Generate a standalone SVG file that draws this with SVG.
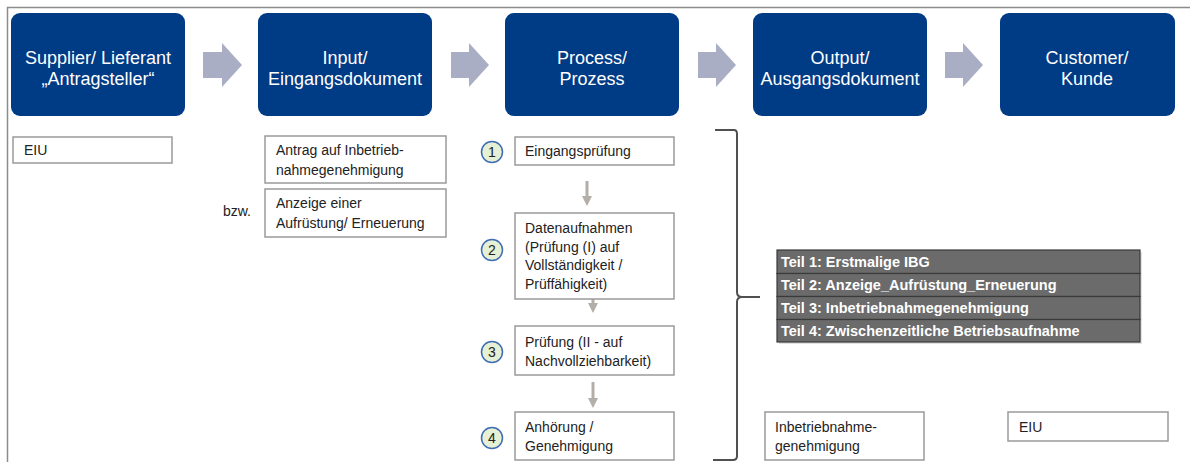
<svg xmlns="http://www.w3.org/2000/svg" width="1190" height="462" viewBox="0 0 1190 462">
<style>
.hdr{fill:#003B86;}
.ht{font-family:"Liberation Sans",Arial,sans-serif;font-size:18px;fill:#ffffff;text-anchor:middle;}
.box{fill:#ffffff;stroke:#9a9a9a;stroke-width:1.5;}
.t{font-family:"Liberation Sans",Arial,sans-serif;font-size:14px;fill:#222222;}
.harrow{fill:#A9AEC4;}
.varrow{fill:#B4AEA8;}
.circ{fill:#E6F0D4;stroke:#3E6DB5;stroke-width:1.5;}
.ct{font-family:"Liberation Sans",Arial,sans-serif;font-size:14px;fill:#222222;text-anchor:middle;}
.row{fill:#6B6B6B;stroke:#3A3A3A;stroke-width:1.2;}
.rt{font-family:"Liberation Sans",Arial,sans-serif;font-size:14.5px;font-weight:bold;fill:#ffffff;}
</style>
<rect x="0" y="0" width="1190" height="462" fill="#ffffff"/>
<path d="M7.5,462 L7.5,7.5 L1190,7.5" fill="none" stroke="#8c8c8c" stroke-width="1.5"/>

<g id="supplier">
<rect class="hdr" x="11" y="13" width="174" height="103" rx="9"/>
<text class="ht" x="98" y="64">Supplier/ Lieferant</text>
<text class="ht" x="98" y="85">„Antragsteller“</text>
</g>
<g id="input">
<rect class="hdr" x="258" y="13" width="174" height="103" rx="9"/>
<text class="ht" x="345" y="64">Input/</text>
<text class="ht" x="345" y="85">Eingangsdokument</text>
</g>
<g id="process">
<rect class="hdr" x="505" y="13" width="174" height="103" rx="9"/>
<text class="ht" x="592" y="64">Process/</text>
<text class="ht" x="592" y="85">Prozess</text>
</g>
<g id="output">
<rect class="hdr" x="753" y="13" width="174" height="103" rx="9"/>
<text class="ht" x="840" y="64">Output/</text>
<text class="ht" x="840" y="85">Ausgangsdokument</text>
</g>
<g id="customer">
<rect class="hdr" x="1000" y="13" width="175" height="103" rx="9"/>
<text class="ht" x="1087" y="64">Customer/</text>
<text class="ht" x="1087" y="85">Kunde</text>
</g>

<g id="connectors">
<polygon class="harrow" points="203,52 222,52 222,43 242,65 222,87 222,78 203,78"/>
<polygon class="harrow" points="451,52 469,52 469,43 489,65 469,87 469,78 451,78"/>
<polygon class="harrow" points="698,52 716,52 716,43 736,65 716,87 716,78 698,78"/>
<polygon class="harrow" points="945,52 963,52 963,43 983,65 963,87 963,78 945,78"/>
<polygon class="varrow" points="585.5,181 588.5,181 588.5,196 592,196 587,206 582,196 585.5,196"/>
<polygon class="varrow" points="591.5,290 594.5,290 594.5,303 598,303 593,313 588,303 591.5,303"/>
<polygon class="varrow" points="591.5,382 594.5,382 594.5,398 598,398 593,408 588,398 591.5,398"/>
<path d="M715,130 L734,130 Q737,130 737,134 L737,292 Q737,297 742,297 L760,297 M742,297 Q737,297 737,302 L737,456 Q737,460 733,460 L713,460" fill="none" stroke="#505050" stroke-width="2"/>
</g>

<g id="eiu-supplier">
<rect class="box" x="13" y="137" width="159" height="26"/>
<text class="t" x="24" y="155">EIU</text>
</g>
<g id="antrag">
<rect class="box" x="265" y="136" width="181" height="47"/>
<text class="t" x="276" y="155">Antrag auf Inbetrieb-</text>
<text class="t" x="276" y="175">nahmegenehmigung</text>
</g>
<g id="bzw">
<text class="t" x="223" y="216">bzw.</text>
</g>
<g id="anzeige">
<rect class="box" x="265" y="189" width="181" height="48"/>
<text class="t" x="276" y="208">Anzeige einer</text>
<text class="t" x="276" y="228">Aufrüstung/ Erneuerung</text>
</g>

<g id="step1">
<circle class="circ" cx="492" cy="152" r="10.5"/>
<text class="ct" x="492" y="157">1</text>
<rect class="box" x="515" y="137" width="159" height="28"/>
<text class="t" x="525" y="156">Eingangsprüfung</text>
</g>
<g id="step2">
<circle class="circ" cx="492" cy="250" r="10.5"/>
<text class="ct" x="492" y="255">2</text>
<rect class="box" x="515" y="213" width="159" height="86"/>
<text class="t" x="525" y="233">Datenaufnahmen</text>
<text class="t" x="525" y="252">(Prüfung (I) auf</text>
<text class="t" x="525" y="270">Vollständigkeit /</text>
<text class="t" x="525" y="289">Prüffähigkeit)</text>
</g>
<g id="step3">
<circle class="circ" cx="492" cy="352" r="10.5"/>
<text class="ct" x="492" y="357">3</text>
<rect class="box" x="515" y="326" width="159" height="49"/>
<text class="t" x="525" y="347">Prüfung (II - auf</text>
<text class="t" x="525" y="366">Nachvollziehbarkeit)</text>
</g>
<g id="step4">
<circle class="circ" cx="492" cy="438" r="10.5"/>
<text class="ct" x="492" y="443">4</text>
<rect class="box" x="515" y="412" width="159" height="48"/>
<text class="t" x="525" y="432">Anhörung /</text>
<text class="t" x="525" y="451">Genehmigung</text>
</g>

<g id="teile">
<rect x="779" y="252" width="363" height="92" fill="#cfcfcf" opacity="0.6"/>
<rect class="row" x="777" y="250" width="363" height="23.5"/>
<rect class="row" x="777" y="273.5" width="363" height="23"/>
<rect class="row" x="777" y="296.5" width="363" height="23"/>
<rect class="row" x="777" y="319.5" width="363" height="22.5"/>
<text class="rt" x="781" y="267">Teil 1: Erstmalige IBG</text>
<text class="rt" x="781" y="290">Teil 2: Anzeige_Aufrüstung_Erneuerung</text>
<text class="rt" x="781" y="313">Teil 3: Inbetriebnahmegenehmigung</text>
<text class="rt" x="781" y="336">Teil 4: Zwischenzeitliche Betriebsaufnahme</text>
</g>

<g id="ibg-output">
<rect class="box" x="765" y="412" width="159" height="48"/>
<text class="t" x="775" y="432">Inbetriebnahme-</text>
<text class="t" x="775" y="451">genehmigung</text>
</g>
<g id="eiu-customer">
<rect class="box" x="1008" y="412" width="160" height="29"/>
<text class="t" x="1019" y="432">EIU</text>
</g>
</svg>
